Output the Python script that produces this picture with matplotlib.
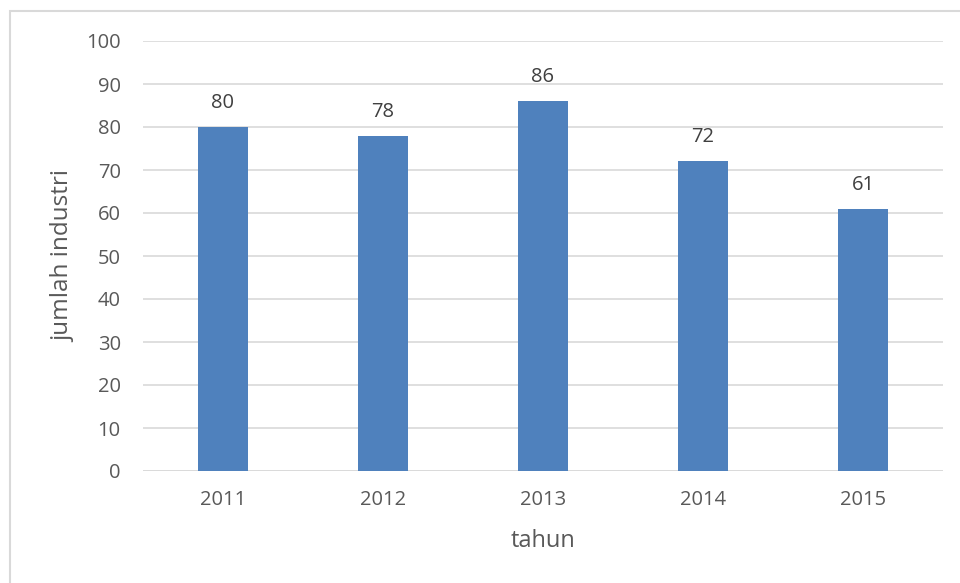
import matplotlib.pyplot as plt
from matplotlib.patches import Rectangle

# data
tahun = ['2011', '2012', '2013', '2014', '2015']
jumlah = [80, 78, 86, 72, 61]

warna_bar = '#4f81bd'
warna_teks = '#595959'
warna_grid = '#d9d9d9'

plt.rcParams['font.family'] = ['Open Sans', 'DejaVu Sans']

fig = plt.figure(figsize=(9.6, 5.83), dpi=100)
W, H = 960, 583
# plot area in pixels: x 143..943, y 41..471
ax = fig.add_axes([143 / W, 1 - 471 / H, 800 / W, 430 / H])

x = range(len(tahun))
bars = ax.bar(x, jumlah, width=0.31, color=warna_bar, zorder=3)
for b, v in zip(bars, jumlah):
    ax.text(b.get_x() + b.get_width() / 2, v + 5.6, str(v), ha='center', va='center',
            fontsize=14.5, color='#404040')

ax.set_xlim(-0.5, len(tahun) - 0.5)
ax.set_ylim(0, 100)
ax.set_yticks(range(0, 101, 10))
ax.set_xticks(list(x))
ax.set_xticklabels(tahun)
ax.yaxis.grid(True, color=warna_grid, linewidth=1.2, zorder=0)
for s in ax.spines.values():
    s.set_visible(False)
ax.axhline(0, color=warna_grid, linewidth=1.2, zorder=2)
ax.tick_params(length=0, labelsize=14.5, colors=warna_teks)
ax.tick_params(axis='y', pad=16)
ax.tick_params(axis='x', pad=14)
ax.set_ylabel('jumlah industri', fontsize=17.5, color=warna_teks)
ax.set_xlabel('tahun', fontsize=17, color=warna_teks)
ax.yaxis.label.set_va('center')
ax.xaxis.label.set_va('center')
ax.yaxis.set_label_coords((63 - 143) / 800, 0.5)
ax.xaxis.set_label_coords(0.5, -(541 - 471) / 430)

# chart border (cropped at right and bottom)
fig.patches.append(Rectangle((10 / W, -0.1), 1.2, 1 - 11 / H + 0.1, transform=fig.transFigure,
                             fill=False, edgecolor='#d9d9d9', linewidth=1.5))

fig.savefig('out.png', dpi=100)
